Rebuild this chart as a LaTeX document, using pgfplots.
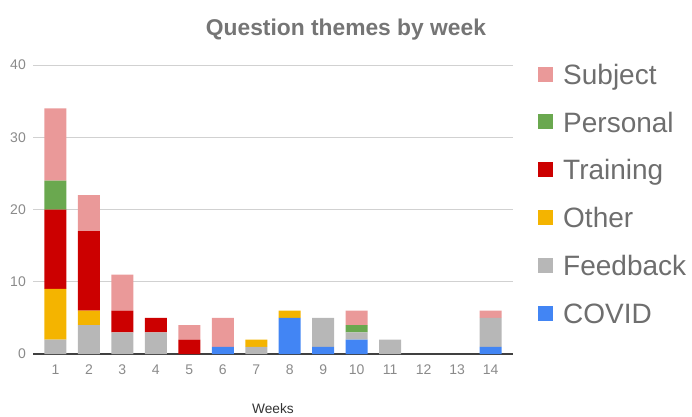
\documentclass[border=0pt]{standalone}
\usepackage{fontspec}
\setmainfont{Liberation Sans}
\usepackage{pgfplots}
\usepackage{pgfplotstable}
\pgfplotsset{compat=1.18}
\definecolor{csub}{HTML}{EA9999}
\definecolor{cper}{HTML}{6AA84F}
\definecolor{ctra}{HTML}{CC0000}
\definecolor{coth}{HTML}{F4B400}
\definecolor{cfee}{HTML}{B7B7B7}
\definecolor{ccov}{HTML}{4285F4}
\definecolor{ctitle}{HTML}{757575}
\definecolor{ctick}{HTML}{8A8A8A}
\definecolor{cleg}{HTML}{6E6E6E}
\pgfplotstableread{
week covid feedback other training personal subject
1 0 2 7 11 4 10
2 0 4 2 11 0 5
3 0 3 0 3 0 5
4 0 3 0 2 0 0
5 0 0 0 2 0 2
6 1 0 0 0 0 4
7 0 1 1 0 0 0
8 5 0 1 0 0 0
9 1 4 0 0 0 0
10 2 1 0 0 1 2
11 0 2 0 0 0 0
12 0 0 0 0 0 0
13 0 0 0 0 0 0
14 1 4 0 0 0 1
}\datatable
\begin{document}
\begin{tikzpicture}[x=1pt,y=1pt]
\useasboundingbox (0,0) rectangle (692,416);
\begin{axis}[
  at={(33pt,62pt)}, anchor=south west,
  scale only axis, width=480pt, height=289pt,
  xmin=0.33, xmax=14.67, ymin=0, ymax=40,
  ybar stacked, bar width=22pt,
  xtick={1,...,14}, ytick={0,10,20,30,40},
  major tick length=0pt,
  axis x line*=bottom, axis y line*=left,
  y axis line style={draw=none},
  x axis line style={draw={black!75}, line width=1.2pt},
  ymajorgrids, grid style={color=black!18, line width=0.8pt},
  tick label style={font=\fontsize{14}{16}\selectfont, text=ctick},
  /pgf/number format/assume math mode=true,
  yticklabel style={inner sep=0pt, xshift=-7pt},
  xticklabel style={inner sep=0pt, yshift=-11pt},
  xlabel={Weeks},
  xlabel style={font=\fontsize{13.7}{15}\selectfont, text=black!80, at={(axis description cs:0.5,0)}, anchor=north, inner sep=0pt, yshift=-49pt},
  title={Question themes by week},
  title style={font=\fontsize{22.8}{26}\bfseries\selectfont, text=ctitle, at={(axis description cs:0.652,1)}, anchor=base, inner sep=0pt, yshift=24pt},
  reverse legend,
  legend cell align=left,
  legend style={at={(axis description cs:1.0521,1.0035)}, anchor=north west, draw=none, fill=none, inner sep=0pt,
    font=\fontsize{28}{30}\selectfont, text=cleg, row sep=21.8pt, column sep=10pt,
    nodes={inner sep=0pt, text height=20pt, text depth=6pt}},
  legend image code/.code={\fill[#1] (0pt,-4.5pt) rectangle (15pt,10.5pt);},
]
\addplot[fill=ccov, draw=none] table[x=week, y=covid] {\datatable};
\addplot[fill=cfee, draw=none] table[x=week, y=feedback] {\datatable};
\addplot[fill=coth, draw=none] table[x=week, y=other] {\datatable};
\addplot[fill=ctra, draw=none] table[x=week, y=training] {\datatable};
\addplot[fill=cper, draw=none] table[x=week, y=personal] {\datatable};
\addplot[fill=csub, draw=none] table[x=week, y=subject] {\datatable};
\legend{COVID,Feedback,Other,Training,Personal,Subject}
\end{axis}
\end{tikzpicture}
\end{document}
